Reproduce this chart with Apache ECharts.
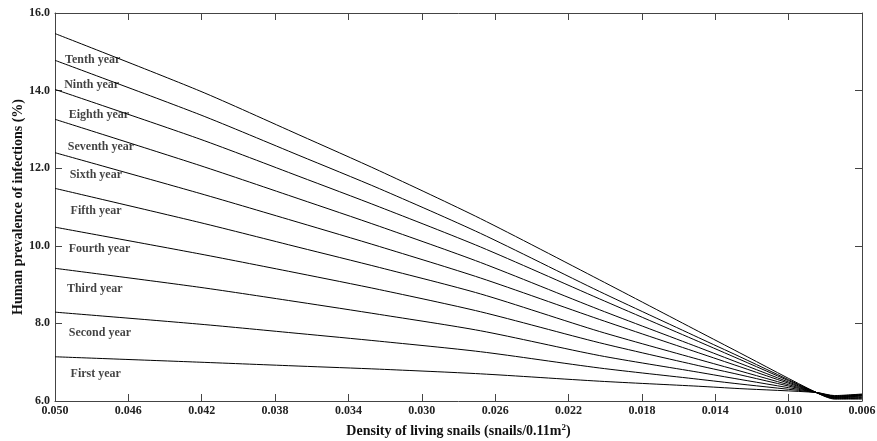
<!DOCTYPE html>
<html>
<head>
<meta charset="utf-8">
<script src="https://cdn.jsdelivr.net/npm/echarts@6/dist/echarts.min.js"></script>
<style>html,body{margin:0;padding:0;background:#fff}#c{width:877px;height:441px}</style>
</head>
<body>
<div id="c"></div>
<script>
var xs = [0.050, 0.0421, 0.0367, 0.0323, 0.0268, 0.0203, 0.0149, 0.0127, 0.0085, 0.0075, 0.006];
var names = ["Tenth year","Ninth year","Eighth year","Seventh year","Sixth year","Fifth year","Fourth year","Third year","Second year","First year"];
var tenth   = [15.47, 13.99, 12.86, 11.93, 10.70, 9.12, 7.79, 7.25, 6.22, 6.05, 6.05];
var ninth   = [14.78, 13.38, 12.33, 11.47, 10.32, 8.82, 7.63, 7.15, 6.22, 6.06, 6.07];
var eighth  = [14.03, 12.75, 11.79, 11.00, 9.97, 8.63, 7.53, 7.08, 6.22, 6.07, 6.09];
var seventh = [13.26, 12.07, 11.21, 10.50, 9.57, 8.35, 7.38, 6.98, 6.22, 6.08, 6.11];
var sixth   = [12.40, 11.35, 10.60, 9.98, 9.17, 8.10, 7.24, 6.89, 6.22, 6.09, 6.13];
var fifth   = [11.48, 10.60, 9.96, 9.44, 8.76, 7.79, 7.07, 6.78, 6.22, 6.10, 6.14];
var fourth  = [10.48, 9.79, 9.29, 8.87, 8.30, 7.50, 6.91, 6.68, 6.22, 6.11, 6.15];
var third   = [9.42, 8.93, 8.55, 8.23, 7.81, 7.17, 6.74, 6.56, 6.22, 6.12, 6.16];
var second  = [8.29, 7.98, 7.74, 7.54, 7.27, 6.85, 6.56, 6.44, 6.22, 6.13, 6.17];
var first   = [7.14, 7.00, 6.90, 6.82, 6.70, 6.51, 6.38, 6.32, 6.22, 6.14, 6.18];
var allSeries = [tenth, ninth, eighth, seventh, sixth, fifth, fourth, third, second, first];
// label anchor (data coordinates) for each year's text
var labelX = [0.04945, 0.04950, 0.04925, 0.04930, 0.04920, 0.04915, 0.04925, 0.04935, 0.04925, 0.04915];
var labelY = [14.80, 14.14, 13.37, 12.54, 11.82, 10.90, 9.91, 8.88, 7.75, 6.70];

var font = '"Liberation Serif", "DejaVu Serif", serif';
var series = allSeries.map(function (vals, i) {
  return {
    type: 'line', name: names[i], symbol: 'none', silent: true, smooth: 0.25,
    lineStyle: { color: '#000', width: 1 },
    data: xs.map(function (x, j) { return [x, vals[j]]; })
  };
});
series.push({
  type: 'scatter', symbolSize: 0, silent: true,
  data: names.map(function (n, i) { return { value: [labelX[i], labelY[i]], name: n }; }),
  label: {
    show: true, position: 'right', distance: 0,
    formatter: function (p) { return p.name; },
    fontFamily: font, fontWeight: 'bold', fontSize: 12, color: '#111'
  }
});

var axisLine = { show: true, lineStyle: { color: '#444', width: 1 } };
var chart = echarts.init(document.getElementById('c'));
chart.setOption({
  animation: false,
  backgroundColor: '#fff',
  grid: { left: 55, right: 15, top: 13, bottom: 40, outerBoundsMode: 'none', containLabel: false },
  xAxis: [{
    type: 'value', inverse: true, min: 0.006, max: 0.050, interval: 0.004,
    axisLine: axisLine, splitLine: { show: false },
    axisTick: { show: true, inside: true, length: 7, lineStyle: { color: '#444' } },
    axisLabel: { formatter: function (v) { return v.toFixed(3); }, fontFamily: font, fontWeight: 'bold', fontSize: 12, color: '#222', margin: 4 },
    name: '{a|Density of living snails (snails/0.11m}{s|2}{a|)}',
    nameLocation: 'middle', nameGap: 22, nameMoveOverlap: false,
    nameTextStyle: { rich: {
      a: { fontFamily: font, fontWeight: 'bold', fontSize: 14, color: '#111' },
      s: { fontFamily: font, fontWeight: 'bold', fontSize: 9, color: '#111', verticalAlign: 'top', padding: [0, 0, 8, 0] }
    } }
  }, {
    type: 'value', inverse: true, min: 0.006, max: 0.050, interval: 0.004, position: 'top',
    axisLine: axisLine, splitLine: { show: false },
    axisTick: { show: true, inside: true, length: 7, lineStyle: { color: '#444' } },
    axisLabel: { show: false }
  }],
  yAxis: [{
    type: 'value', min: 6, max: 16, interval: 2,
    axisLine: axisLine, splitLine: { show: false },
    axisTick: { show: true, inside: true, length: 7, lineStyle: { color: '#444' } },
    axisLabel: { formatter: function (v) { return v.toFixed(1); }, fontFamily: font, fontWeight: 'bold', fontSize: 12, color: '#222', margin: 5 },
    name: 'Human prevalence of infections (%)', nameLocation: 'middle', nameGap: 30, nameMoveOverlap: false,
    nameTextStyle: { fontFamily: font, fontWeight: 'bold', fontSize: 14, color: '#111' }
  }, {
    type: 'value', min: 6, max: 16, interval: 2, position: 'right',
    axisLine: axisLine, splitLine: { show: false },
    axisTick: { show: true, inside: true, length: 7, lineStyle: { color: '#444' } },
    axisLabel: { show: false }
  }],
  series: series
});
</script>
</body>
</html>
